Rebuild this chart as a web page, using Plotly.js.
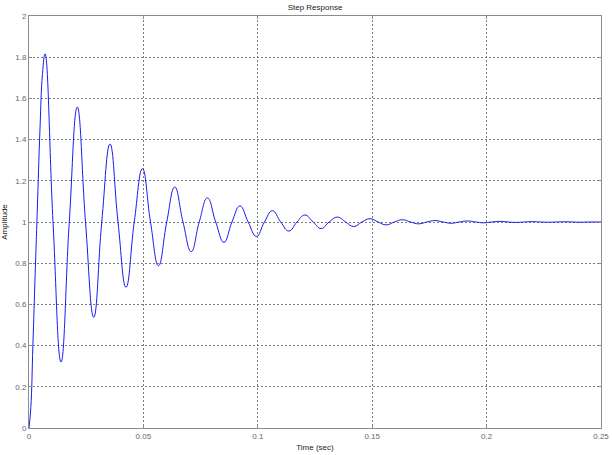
<!DOCTYPE html>
<html><head><meta charset="utf-8">
<script src="https://cdn.plot.ly/plotly-3.0.1.min.js"></script>
<style>html,body{margin:0;padding:0;background:#fff}</style>
</head><body><div id="chart" style="width:612px;height:455px"></div>
<script>
// Values (extrema, unit-level crossings and the initial rise)
const timeSec = [0, 0.0008, 0.0017, 0.0027, 0.0036, 0.0048, 0.0059, 0.0070,
  0.0105, 0.0140, 0.0176, 0.0211, 0.0247, 0.0283, 0.0318, 0.0354, 0.0389, 0.0424,
  0.0460, 0.0496, 0.0531, 0.0566, 0.0602, 0.0637, 0.0673, 0.0709, 0.0744, 0.0780,
  0.0816, 0.0852, 0.0887, 0.0922, 0.0958, 0.0994, 0.1029, 0.1064, 0.1100, 0.1136,
  0.1171, 0.1206, 0.1242, 0.1277, 0.1312, 0.1348, 0.1384, 0.1419, 0.1455, 0.1490,
  0.1526, 0.1561, 0.1597, 0.1632, 0.1668, 0.1703, 0.1739, 0.1774, 0.1810, 0.1845,
  0.1881, 0.1916, 0.1952, 0.1987, 0.2023, 0.2058, 0.2094, 0.2129, 0.2165, 0.2200,
  0.2236, 0.2271, 0.2307, 0.2342, 0.2378, 0.2413, 0.2450, 0.2500];
const amplitude = [0, 0.10, 0.40, 0.75, 1.05, 1.45, 1.72, 1.816,
  1.0, 0.320, 1.0, 1.558, 1.0, 0.537, 1.0, 1.379, 1.0, 0.683,
  1.0, 1.259, 1.0, 0.788, 1.0, 1.170, 1.0, 0.856, 1.0, 1.117,
  1.0, 0.901, 1.0, 1.078, 1.0, 0.930, 1.0, 1.055, 1.0, 0.956,
  1.0, 1.034, 1.0, 0.968, 1.0, 1.024, 1.0, 0.978, 1.0, 1.016,
  1.0, 0.986, 1.0, 1.011, 1.0, 0.991, 1.0, 1.007, 1.0, 0.994,
  1.0, 1.005, 1.0, 0.996, 1.0, 1.003, 1.0, 0.998, 1.0, 1.002,
  1.0, 0.999, 1.0, 1.001, 1.0, 0.999, 1.0, 1.000];
const xTickVals = [0, 0.05, 0.1, 0.15, 0.2, 0.25];
const xTickText = ["0", "0.05", "0.1", "0.15", "0.2", "0.25"];
const yTickVals = [0, 0.2, 0.4, 0.6, 0.8, 1, 1.2, 1.4, 1.6, 1.8, 2];
const yTickText = ["0", "0.2", "0.4", "0.6", "0.8", "1", "1.2", "1.4", "1.6", "1.8", "2"];

const fontFam = "Liberation Sans, Arial, sans-serif";
const axisCommon = {
  showline: true, mirror: 'ticks', linecolor: '#8c8c8c', linewidth: 1,
  ticks: 'inside', ticklen: 3, tickcolor: '#8c8c8c',
  showgrid: true, gridcolor: '#7a7a7a', griddash: '2px,2px', gridwidth: 1,
  zeroline: false, tickfont: {family: fontFam, size: 8, color: '#666666'},
  tickmode: 'array', fixedrange: true
};
const trace = {
  x: timeSec, y: amplitude, type: 'scatter', mode: 'lines',
  line: {color: '#1a1aee', width: 1, shape: 'spline', smoothing: 1.3},
  hoverinfo: 'skip'
};
const layout = {
  width: 612, height: 455,
  margin: {l: 29, r: 11, t: 16, b: 27, pad: 0},
  paper_bgcolor: '#ffffff', plot_bgcolor: '#ffffff',
  showlegend: false,
  title: {text: 'Step Response', font: {family: fontFam, size: 8, color: '#222'},
          x: 0.5, xref: 'paper', y: 1, yref: 'container', yanchor: 'top', pad: {t: 4}},
  xaxis: Object.assign({}, axisCommon, {
    range: [0, 0.25], tickvals: xTickVals, ticktext: xTickText,
    title: {text: 'Time (sec)', font: {family: fontFam, size: 8, color: '#222'}, standoff: 4}
  }),
  yaxis: Object.assign({}, axisCommon, {
    range: [0, 2], tickvals: yTickVals, ticktext: yTickText,
    title: {text: 'Amplitude', font: {family: fontFam, size: 8, color: '#222'}, standoff: 6}
  })
};
Plotly.newPlot('chart', [trace], layout, {displayModeBar: false, staticPlot: true});
</script></body></html>
